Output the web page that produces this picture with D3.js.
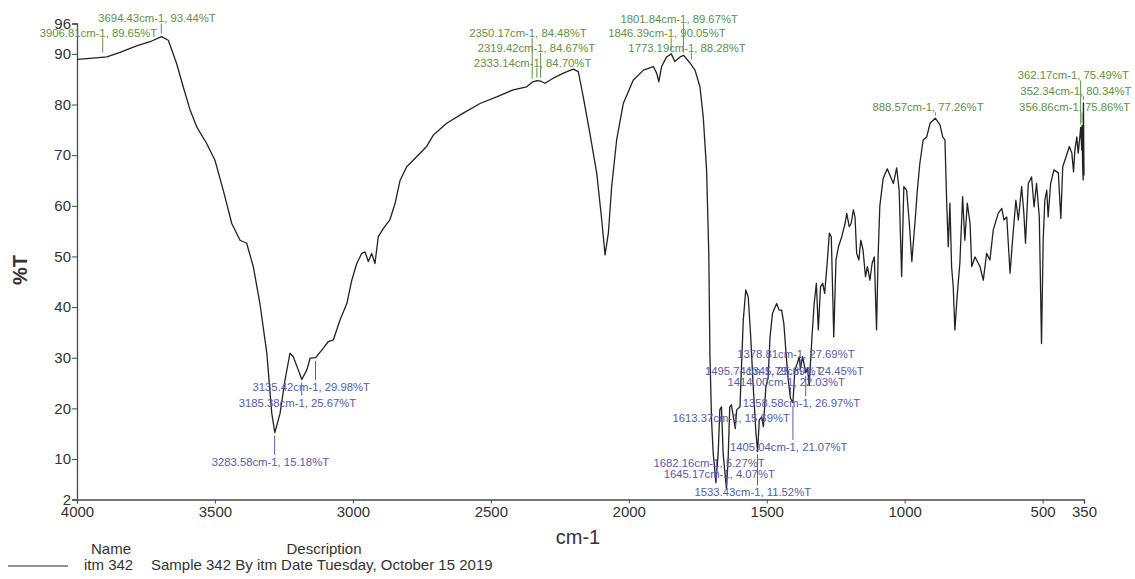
<!DOCTYPE html>
<html><head><meta charset="utf-8">
<script src="https://cdn.jsdelivr.net/npm/d3@7"></script>
<style>
body{margin:0;background:#fff;}
text{font-family:"Liberation Sans",Arial,sans-serif;}
</style>
</head><body>
<svg id="c" width="1135" height="579"></svg>
<script>
// ---- data ----
const wavenumbers = [4000,3953,3892,3844,3784,3735,3694,3669,3639,3615,3590,3566,3530,3500,3470,3439,3409,3385,3361,3337,3312,3294,3283,3264,3246,3228,3216,3198,3185,3167,3155,3135,3107,3089,3071,3047,3022,3004,2986,2968,2956,2944,2932,2920,2908,2890,2866,2847,2829,2805,2769,2733,2708,2660,2600,2539,2479,2419,2370,2350,2333,2319,2304,2274,2237,2201,2183,2165,2141,2116,2098,2086,2074,2062,2044,2020,1984,1947,1911,1899,1891,1881,1863,1846,1833,1814,1801,1778,1760,1742,1730,1718,1710,1706,1700,1694,1684,1676,1670,1664,1658,1646,1640,1634,1628,1621,1614,1609,1597,1585,1576,1567,1558,1549,1539,1533,1527,1518,1512,1503,1495,1488,1479,1464,1455,1446,1438,1430,1422,1414,1405,1398,1389,1382,1378,1370,1358,1352,1346,1336,1328,1320,1313,1305,1297,1290,1281,1273,1266,1257,1249,1240,1228,1216,1210,1201,1194,1186,1180,1174,1166,1159,1151,1142,1135,1126,1118,1110,1102,1096,1090,1078,1063,1041,1029,1020,1011,1003,993,983,974,963,954,945,933,920,908,889,872,862,854,848,842,836,830,824,818,809,800,790,782,773,763,757,745,727,715,703,691,679,661,648,640,630,618,609,597,588,576,568,562,552,540,531,522,512,504,498,492,485,480,471,459,443,434,427,415,403,394,388,383,376,371,365,362,358,357,355,353,352,351,350];
const transmittance = [88.9,89.1,89.4,90.3,91.6,92.4,93.4,92.7,88.1,83.5,78.9,75.6,72.3,69.0,63.1,56.5,53.2,52.6,48.0,40.7,30.9,19.0,15.2,19.0,25.6,30.9,30.2,27.6,25.7,27.6,29.9,30.0,31.9,33.2,33.5,37.4,40.7,45.3,48.6,50.6,50.9,49.0,50.6,48.6,53.9,55.5,57.2,60.5,65.0,67.7,69.7,71.7,74.0,76.3,78.3,80.2,81.5,82.9,83.5,84.4,84.7,84.6,84.2,85.2,86.2,87.0,86.5,81.5,74.3,66.4,57.2,50.3,54.6,63.8,73.0,80.2,84.8,86.8,87.5,86.2,84.5,87.5,89.4,90.0,88.5,89.4,89.7,88.2,86.8,83.5,77.5,67.1,50.6,30.9,17.7,11.1,5.3,11.1,19.7,20.3,11.1,4.1,9.8,20.3,20.7,18.3,16.0,19.7,20.3,37.4,43.4,42.0,34.1,24.3,15.1,11.5,17.7,18.3,16.4,24.3,26.0,34.1,38.8,40.7,39.4,39.4,36.8,30.9,25.6,22.0,21.1,27.6,28.9,30.2,27.7,30.2,27.0,28.0,24.5,34.1,40.7,44.7,35.5,44.0,44.7,42.7,48.6,54.6,53.9,34.1,49.3,51.9,53.9,56.5,58.5,55.9,56.5,59.2,57.8,50.6,49.3,53.2,51.3,46.0,48.0,45.3,48.6,49.9,35.5,50.6,60.0,65.4,67.3,64.4,67.5,63.1,46.0,63.8,63.1,56.5,49.0,56.5,63.1,68.4,73.0,73.6,76.3,77.3,76.0,73.6,73.0,61.1,51.9,60.5,48.0,44.0,35.5,42.7,48.6,61.8,53.2,60.5,56.5,48.0,49.9,48.0,45.3,50.6,49.3,55.2,58.5,59.5,57.2,57.8,46.7,53.2,61.1,57.2,63.8,58.5,52.6,64.4,65.7,59.8,64.4,57.8,32.8,53.2,61.1,63.1,57.8,64.4,67.1,66.5,57.5,67.7,69.7,71.7,70.4,66.7,71.0,73.6,70.4,73.6,75.5,71.0,75.9,68.0,65.1,80.3,73.0,66.0];

const xTicks = [4000,3500,3000,2500,2000,1500,1000,500,350];
const yTicks = [2,10,20,30,40,50,60,70,80,90,96];

const peakWavenumbers = [3906.81,3694.43,2350.17,2319.42,2333.14,1846.39,1801.84,1773.19,888.57,362.17,352.34,356.86];
const peakValues      = [89.65,93.44,84.48,84.67,84.70,90.05,89.67,88.28,77.26,75.49,80.34,75.86];
const dipWavenumbers  = [3283.58,3185.38,3135.42,1682.16,1645.17,1613.37,1533.43,1495.74,1414.00,1405.04,1378.81,1358.58,1345.79];
const dipValues       = [15.18,25.67,29.98,5.27,4.07,15.69,11.52,25.89,22.03,21.07,27.69,26.97,24.45];

const xTitle = "cm-1";
const yTitle = "%T";
const legendHeaders = ["Name","Description"];
const legendName = "itm 342";
const legendDescription = "Sample 342 By itm Date Tuesday, October 15 2019";

// ---- layout (label vertical offsets, px) ----
const peakLabelDy = [-23,-18,-49,-33,-18,-21,-37,-15,-11,-52,-12,-18];
const dipLabelDy  = [29,23,29,-20,-15,-12,41,-8,-16,44,-15,30,-15];

// ---- drawing ----
const svg = d3.select("#c");
const x = d3.scaleLinear().domain([4000,350]).range([77,1084]);
const y = d3.scaleLinear().domain([2,96]).range([499.5,23.5]);
const axisColor = "#4a4a4a", textColor = "#333";

const gx = svg.append("g").attr("transform","translate(0,499.5)")
  .call(d3.axisBottom(x).tickValues(xTicks).tickSize(4).tickFormat(d3.format("d")));
const gy = svg.append("g").attr("transform","translate(77,0)")
  .call(d3.axisLeft(y).tickValues(yTicks).tickSize(5).tickFormat(d3.format("d")));
[gx,gy].forEach(g=>{
  g.select(".domain").attr("stroke",axisColor).attr("stroke-width",1.3);
  g.selectAll(".tick line").attr("stroke",axisColor).attr("stroke-width",1);
  g.selectAll(".tick text").attr("fill",textColor).style("font-size","15px")
   .style("font-family","'Liberation Sans',Arial,sans-serif");
});
gx.selectAll(".tick text").attr("dy","0.78em").attr("y",6);
gy.selectAll(".tick text").attr("x",-6);

const line = d3.line().x((d,i)=>x(wavenumbers[i])).y(d=>y(d));
svg.append("path").datum(transmittance).attr("d",line)
  .attr("fill","none").attr("stroke","#222").attr("stroke-width",1.3).attr("stroke-linejoin","round");

function annotate(ws, vs, dys, color){
  ws.forEach((w,i)=>{
    const px = x(w), py = y(vs[i]), ly = py + dys[i];
    let y1, y2;
    if (dys[i] < 0){ y1 = ly + 5; y2 = py - 3; } else { y1 = py + 3; y2 = ly - 7; }
    if (y2 > y1) svg.append("line").attr("x1",px).attr("x2",px).attr("y1",y1).attr("y2",y2)
      .attr("stroke",color).attr("stroke-width",1);
    svg.append("text").attr("x",px-63).attr("y",ly).attr("dominant-baseline","central")
      .attr("fill",color).style("font-size","11.3px")
      .text(`${w.toFixed(2)}cm-1, ${vs[i].toFixed(2)}%T`);
  });
}
annotate(peakWavenumbers, peakValues, peakLabelDy, "#5e9048");
annotate(dipWavenumbers, dipValues, dipLabelDy, "#5a5aa6");

svg.append("text").attr("x",578).attr("y",544).attr("text-anchor","middle")
  .attr("fill",textColor).style("font-size","20px").text(xTitle);
svg.append("text").attr("transform","translate(27,270) rotate(-90)").attr("text-anchor","middle")
  .attr("fill",textColor).style("font-size","20px").style("font-weight","bold").text(yTitle);

svg.append("text").attr("x",111).attr("y",554).attr("text-anchor","middle").attr("fill",textColor).style("font-size","15px").text(legendHeaders[0]);
svg.append("text").attr("x",324).attr("y",554).attr("text-anchor","middle").attr("fill",textColor).style("font-size","15px").text(legendHeaders[1]);
svg.append("line").attr("x1",8).attr("x2",68).attr("y1",566).attr("y2",566).attr("stroke","#222").attr("stroke-width",1.2);
svg.append("text").attr("x",84).attr("y",570).attr("fill",textColor).style("font-size","15px").text(legendName);
svg.append("text").attr("x",151).attr("y",570).attr("fill",textColor).style("font-size","15px").text(legendDescription);
</script>
</body></html>
